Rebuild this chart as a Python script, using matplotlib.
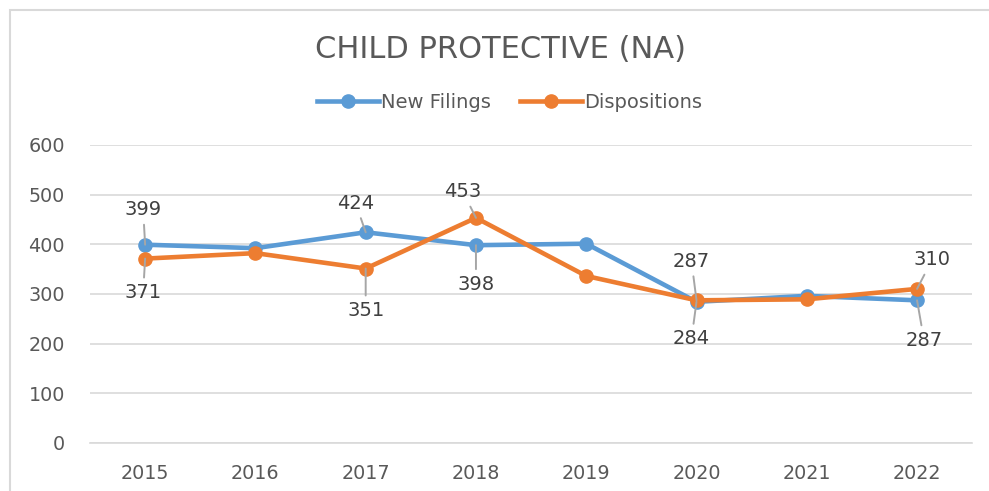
import matplotlib.pyplot as plt
from matplotlib.patches import Rectangle
from matplotlib.lines import Line2D

years = ["2015", "2016", "2017", "2018", "2019", "2020", "2021", "2022"]
new_filings = [399, 392, 424, 398, 401, 284, 296, 287]
dispositions = [371, 382, 351, 453, 336, 287, 289, 310]

# which points carry a label, and where the label sits (pixel offsets)
blue_labels = {0: (-2, 35), 2: (-10, 29), 3: (0, -39), 5: (-5, -37), 7: (7, -40)}
orange_labels = {0: (-2, -34), 2: (0, -42), 3: (-13, 26), 5: (-5, 39), 7: (15, 29)}

blue = "#5B9BD5"
orange = "#ED7D31"
plt.rcParams['font.family'] = ['DejaVu Sans']

fig = plt.figure(figsize=(9.89, 4.91), dpi=100)
ax = fig.add_axes([0.091, 0.098, 0.892, 0.607])

x = list(range(len(years)))
ax.plot(x, new_filings, color=blue, lw=3.3, marker="o", ms=9.5, label="New Filings", zorder=3)
ax.plot(x, dispositions, color=orange, lw=3.3, marker="o", ms=9.5, label="Dispositions", zorder=4)

for series, labs in ((new_filings, blue_labels), (dispositions, orange_labels)):
    for i, off in labs.items():
        ax.annotate(str(series[i]), (x[i], series[i]), xytext=off, textcoords="offset pixels",
                    ha="center", va="center", fontsize=14, color="#404040",
                    arrowprops=dict(arrowstyle="-", color="#A6A6A6", lw=1.4, shrinkA=2, shrinkB=0),
                    zorder=5)

ax.set_xlim(-0.5, 7.5)
ax.set_ylim(0, 600)
ax.set_yticks(range(0, 601, 100))
ax.set_xticks(x)
ax.set_xticklabels(years)
ax.grid(axis="y", color="#D9D9D9", lw=1.2)
ax.set_axisbelow(True)
for s in ax.spines.values():
    s.set_visible(False)
ax.spines["bottom"].set_visible(True)
ax.spines["bottom"].set_color("#D9D9D9")
ax.spines["bottom"].set_linewidth(1.2)
ax.tick_params(length=0, labelsize=13.8, colors="#595959")
ax.tick_params(axis="x", pad=15)
ax.tick_params(axis="y", pad=18)

fig.text(0.5065, 1 - 49 / 491, "CHILD PROTECTIVE (NA)", ha="center", va="center",
         fontsize=22, color="#595959")

handles = [Line2D([], [], color=blue, lw=3.3, marker="o", ms=9.5),
           Line2D([], [], color=orange, lw=3.3, marker="o", ms=9.5)]
fig.legend(handles, ["New Filings", "Dispositions"], loc="center", bbox_to_anchor=(0.515, 1 - 102 / 491),
           ncol=2, frameon=False, fontsize=14, labelcolor="#595959",
           handlelength=3.2, handletextpad=0.1, columnspacing=1.5)

fig.patches.append(Rectangle((10 / 989, -0.1), 1.2, 1 - 10 / 491 + 0.1, transform=fig.transFigure,
                             fill=False, edgecolor="#D9D9D9", lw=1.5))

fig.savefig("out.png", dpi=100)
